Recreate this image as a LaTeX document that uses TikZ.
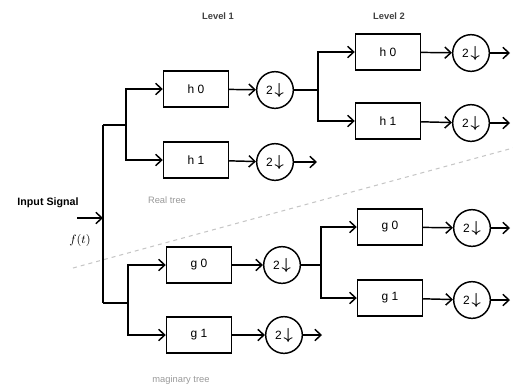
\documentclass[tikz,border=0pt]{standalone}
\usepackage{amsmath}
\usepackage{fontspec}
\setmainfont{Liberation Sans}
\usetikzlibrary{arrows.meta,positioning}
\tikzset{
  filt/.style  = {draw, line width=1.1pt, fill=white, minimum width=48.75pt, minimum height=27pt,
                  font=\small},
  dsmp/.style  = {circle, draw, line width=1.1pt, fill=white, minimum size=27.5pt, inner sep=0pt,
                  font=\small},
  wire/.style  = {line width=1.1pt},
  arr/.style   = {line width=1.1pt, -{Straight Barb[length=1.6mm,width=3mm]}},
  lvl/.style   = {font=\scriptsize\bfseries, text=black!75},
  tree/.style  = {font=\scriptsize, text=gray!80},
}
\newcommand{\dwn}{2\,{\large$\boldsymbol{\downarrow}$}}
\begin{document}
\begin{tikzpicture}[x=0.75pt,y=-0.75pt]
  \useasboundingbox (0,0) rectangle (513,390);
  % level labels
  \node[lvl] (lv1) at (218,16) {Level 1};
  \node[lvl] (lv2) at (389,16) {Level 2};
  % separator of the two trees
  \draw[dashed, gray!45, thick] (73,268) -- (513,148);
  % real tree
  \node[filt] (hA) at (196,89)  {h 0};
  \node[filt] (hB) at (196,160) {h 1};
  \node[dsmp] (dA) at (275,90)  {\dwn};
  \node[dsmp] (dB) at (275,162) {\dwn};
  \node[filt] (hAA) at (388,52)  {h 0};
  \node[filt] (hAB) at (388,121) {h 1};
  \node[dsmp] (dAA) at (471,53)  {\dwn};
  \node[dsmp] (dAB) at (471,123) {\dwn};
  % imaginary tree
  \node[filt] (gA) at (199,265) {g 0};
  \node[filt] (gB) at (199,335) {g 1};
  \node[dsmp] (eA) at (282,265) {\dwn};
  \node[dsmp] (eB) at (284,335) {\dwn};
  \node[filt] (gAA) at (390,227) {g 0};
  \node[filt] (gAB) at (390,298) {g 1};
  \node[dsmp] (eAA) at (472,228) {\dwn};
  \node[dsmp] (eAB) at (472,300) {\dwn};
  % tree names and input
  \node[tree] (rt) at (167,200) {Real tree};
  \node[tree] (it) at (181,380) {maginary tree};
  \node[font=\footnotesize\bfseries] (insig) at (48,203) {Input Signal};
  \node[font=\small] (ft) at (80,240) {$f(t)$};
  % junctions
  \coordinate (src) at (77,218);
  \coordinate (jM)  at (103,218);
  \coordinate (jR)  at (103,125);
  \coordinate (jI)  at (103,303);
  \coordinate (sR)  at (126,125);
  \coordinate (sI)  at (128,303);
  \coordinate (kR)  at (318,90);
  \coordinate (kI)  at (321,265);
  \coordinate (oB)  at (317,162);
  \coordinate (oE)  at (322,335);
  \coordinate (oAA) at (510,53);
  \coordinate (oAB) at (510,123);
  \coordinate (oEA) at (510,228);
  \coordinate (oEB) at (510,300);
  % connectors
  \draw[arr] (src) -- (jM);
  \draw[wire] (jR) -- (jI);
  \draw[wire] (jR) -- (sR);
  \draw[wire] (jI) -- (sI);
  \draw[arr] (sR) |- (hA.west);
  \draw[arr] (sR) |- (hB.west);
  \draw[arr] (sI) |- (gA.west);
  \draw[arr] (sI) |- (gB.west);
  \draw[arr] (hA) -- (dA);
  \draw[arr] (hB) -- (dB);
  \draw[arr] (gA) -- (eA);
  \draw[arr] (gB) -- (eB);
  \draw[wire] (dA) -- (kR);
  \draw[wire] (eA) -- (kI);
  \draw[arr] (kR) |- (hAA.west);
  \draw[arr] (kR) |- (hAB.west);
  \draw[arr] (kI) |- (gAA.west);
  \draw[arr] (kI) |- (gAB.west);
  \draw[arr] (hAA) -- (dAA);
  \draw[arr] (hAB) -- (dAB);
  \draw[arr] (gAA) -- (eAA);
  \draw[arr] (gAB) -- (eAB);
  \draw[arr] (dB) -- (oB);
  \draw[arr] (eB) -- (oE);
  \draw[arr] (dAA) -- (oAA);
  \draw[arr] (dAB) -- (oAB);
  \draw[arr] (eAA) -- (oEA);
  \draw[arr] (eAB) -- (oEB);
\end{tikzpicture}
\end{document}
